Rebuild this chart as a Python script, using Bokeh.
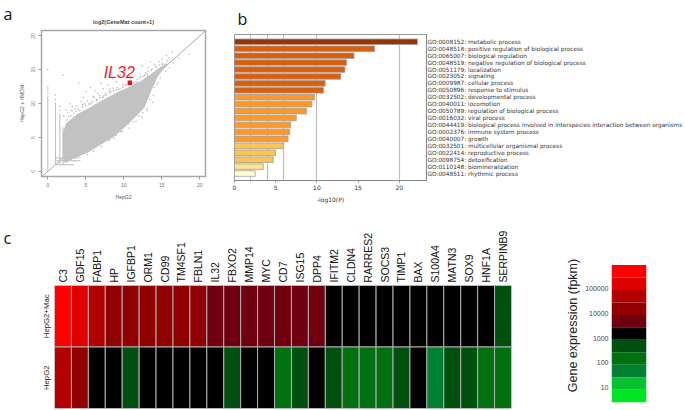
from bokeh.plotting import figure
from bokeh.layouts import column, row
from bokeh.models import Range1d, FixedTicker, Label, Slope
from bokeh.core.properties import value
from bokeh.embed import file_html
from bokeh.resources import INLINE

# ---------- panel a: values ----------
cloud_x = [2.1,2.1,2.5,3.9,5.6,7.4,9.1,10.9,12.6,14.4,15.7,15.3,14.4,13.5,12.6,11.3,10.0,8.7,6.9,5.2,3.4,2.3]
cloud_y = [2.1,5.6,7.0,8.3,9.3,10.5,11.5,12.4,13.4,14.9,15.9,15.4,14.2,12.0,9.5,8.0,6.6,5.3,4.1,2.9,2.1,1.4]
stripe_xs = [[0,0],[1,1],[1.58,1.58],[2,2],[1,3.5],[1,4.3],[1,4.0]]
stripe_ys = [[0,11.2],[1,10.2],[1,8.5],[1,6.5],[1,1],[1.58,1.58],[2,2]]
scatter_x = [0,2,4.1,5.6,6.2,7,7.3,5,4.7,6,6.6,8.2,7.9,9,8.5,9.6,10.4,11.1,12.2,12.9,13.2,14,14.6,15,15.6,16,16.4,17.2,18.6,
             13.5,12.4,3.2,2.9,2.4,3.8,4.4,5.2,6.1,6.8,7.6,8.6,9.9,10.9,11.6,12.5,13.6,14.3,15.1,15.7,2.1,2.6,
             14.8,14.5,14,13.9,13.4,13,12.5,12,11.2,10.6,9.6,8.7,8,7,6,5.2,4.2,3.5,16,16.5,15.5,
             0,0,0,0,1,1,1.58,1.58,3.1,3.6,4.6,5.4,6.4,7.2,8.1,9.3,10.2,11.8,13.1,13.8,
             2.5,3,3.4,3.7,4.2,4.6,5,5.5,5.9,6.4,6.8,7.3,7.7,8.1,8.6,9,9.5,9.9,10.4,10.8,11.3,11.7,12.2,12.7,13.1,
             2.7,3.2,4,4.9,5.7,6.5,7.4,8.3,9.1,9.9,10.7,11.5,12.1,12.8,13.2,13.7,14.2,14.7,15.1,
             3,3.9,4.7,5.5,6.3,7.2,8.1,9,9.8,10.7,11.6,12.4,13.1,13.8,14.4]
scatter_y = [15,14.2,13.1,12.4,11.9,13,12.2,11.8,10.9,11.1,11.5,12.2,12.8,13.2,13.7,14.3,13.8,14.6,14.3,14.6,15.3,15.8,16.2,16.6,17.1,16.8,17.6,16.7,17.3,
             16.2,15.6,9.6,10,9.1,9.7,10.3,10.4,10.9,11.2,11.5,12.3,12.9,13.7,13.2,14,14.9,15.4,15.8,16.3,8.2,8.7,
             13.8,13.1,12.4,11.2,10.6,9.2,8.7,8.2,7.3,7,5.9,4.9,4.7,3.7,3,2.5,2.1,1.6,15.3,16,14.8,
             11.5,11.9,12.2,12.5,10.6,11.3,9,9.6,9,9.3,9.9,10,10.6,10.9,11.9,12.1,12.7,13.6,14.1,14.4,
             7.6,8.2,8.6,8.9,9,9.5,9.7,9.9,10.3,10.4,10.9,11,11.3,11.6,11.9,12,12.2,12.6,12.8,13,13.1,13.2,13.9,14.2,14.4,
             8.1,9,9.2,10,10.1,10.6,11.2,11.8,12.4,12.4,12.9,12.9,13.8,14.2,14.8,15.1,15.5,15.7,16,
             1.8,2.3,2.6,3.4,3.7,4.2,4.6,5.3,5.9,6.4,7.4,8,9,10.2,12.8]
highlight_x = [10.8]
highlight_y = [13.1]
highlight_name = "IL32"
a_ticks = [0,5,10,15,20]

# ---------- panel b ----------
go_labels = ["GO:0008152: metabolic process","GO:0048518: positive regulation of biological process",
 "GO:0065007: biological regulation","GO:0048519: negative regulation of biological process",
 "GO:0051179: localization","GO:0023052: signaling","GO:0009987: cellular process",
 "GO:0050896: response to stimulus","GO:0032502: developmental process","GO:0040011: locomotion",
 "GO:0050789: regulation of biological process","GO:0016032: viral process",
 "GO:0044419: biological process involved in interspecies interaction between organisms",
 "GO:0002376: immune system process","GO:0040007: growth","GO:0032501: multicellular organismal process",
 "GO:0022414: reproductive process","GO:0098754: detoxification","GO:0110148: biomineralization",
 "GO:0048511: rhythmic process"]
go_values = [22.2,17.0,14.5,13.6,13.4,12.9,11.0,10.8,9.7,9.4,8.75,7.5,6.8,6.7,6.5,5.9,5.0,4.7,3.5,2.5]
go_colors = ["#993404"]+["#d95f0e"]*7+["#fe9929"]*7+["#fec44f"]*3+["#fee391","#ffffd4"]
b_grid = [2,4,6,10,20]
b_ticks = [0,5,10,15,20]

# ---------- panel c ----------
genes = ["C3","GDF15","FABP1","HP","IGFBP1","ORM1","CD99","TM4SF1","FBLN1","IL32","FBXO2","MMP14","MYC","CD7",
         "ISG15","DPP4","IFITM2","CLDN4","RARRES2","SOCS3","TIMP1","BAX","S100A4","MATN3","SOX9","HNF1A","SERPINB9"]
samples = ["HepG2+Mac","HepG2"]
level_mac = [10,9,8,7,7,7,7,7,7,6,6,6,6,6,6,6,5,5,5,5,5,5,5,5,5,5,4]
level_hep = [8,7,5,5,4,5,5,5,5,5,4,5,5,3,4,5,4,3,3,3,4,5,2,4,4,3,3]
level_colors = ["#00e620","#08c030","#008030","#007010","#005010","#000000","#700010","#900000","#b30000","#e00000","#ff0000"]
legend_ticks = [1,2,3,4,5]
legend_labels = ["10","100","1000","10000","100000"]
legend_title = "Gene expression (fpkm)"

GREY = "#a8a8a8"

def lab(p, box, text, page_x, page_y, size, color="#111111", font="Liberation Sans", style="normal", align="left"):
    # box = frame left, right, top, bottom in page pixels; converts a page position to the figure's data space
    l, r, t, b = box
    xr, yr = p.x_range, p.y_range
    x = xr.start + (page_x-l)/(r-l)*(xr.end-xr.start)
    y = yr.start + (page_y-b)/(t-b)*(yr.end-yr.start)
    p.add_layout(Label(x=x, y=y, text=text, text_font=font, text_font_size=size, text_color=color,
                       text_font_style=style, text_align=align, text_baseline="alphabetic"), "above")

# ---------- figure a ----------
pa = figure(width=222, height=205, output_backend="svg", toolbar_location=None,
            x_range=Range1d(-0.83,20.75), y_range=Range1d(-0.74,20.8),
            min_border_left=41, min_border_right=17, min_border_top=30, min_border_bottom=29,
            outline_line_color=GREY, outline_line_width=1.5)
box_a = (41,205,30,176)
pa.grid.visible = False
pa.add_layout(Slope(gradient=1, y_intercept=0, line_color="#a8a8a8", line_width=1, level="underlay"))
pa.patch(cloud_x, cloud_y, color="#c2c2c2", line_width=2)
pa.multi_line(stripe_xs, stripe_ys, color="#bdbdbd", line_width=1)
pa.scatter(scatter_x, scatter_y, size=1.6, color="#bbbbbb", line_color=None)
pa.scatter(highlight_x, highlight_y, size=4.5, color="#e8101c", marker="square", line_color=None)
pa.text(x=[7.35], y=[14.6], text=[highlight_name], text_font=value("Liberation Sans"), text_font_size="16px",
        text_font_style="italic", text_color="#f0202a", text_baseline="alphabetic")
for ax in (pa.xaxis[0], pa.yaxis[0]):
    ax.ticker = FixedTicker(ticks=a_ticks)
    ax.bounds = (0,20)
    ax.axis_line_color = GREY
    ax.major_tick_line_color = "#999999"
    ax.major_tick_in = 0
    ax.major_tick_out = 3
    ax.minor_tick_line_color = None
    ax.major_label_text_font = "Liberation Sans"
    ax.major_label_text_font_size = "5px"
    ax.major_label_text_color = "#777777"
    ax.major_label_standoff = 3
pa.yaxis[0].major_label_orientation = "vertical"
pa.xaxis[0].axis_label = "HepG2"
pa.yaxis[0].axis_label = "HepG2 + HMDM"
for ax in (pa.xaxis[0], pa.yaxis[0]):
    ax.axis_label_text_font = "Liberation Sans"
    ax.axis_label_text_font_size = "5px"
    ax.axis_label_text_font_style = "normal"
    ax.axis_label_text_color = "#555555"
    ax.axis_label_standoff = 4
lab(pa, box_a, "a", 3, 13, "16px", font="Open Sans")
lab(pa, box_a, "log2(GeneMat count+1)", 123, 21, "5.5px", color="#444444", style="bold", align="center")

# ---------- figure b ----------
idx = list(range(len(go_values)))
pb = figure(width=463, height=205, output_backend="svg", toolbar_location=None,
            x_range=Range1d(0,23.3), y_range=Range1d(20.0,-1.05),
            min_border_left=12, min_border_right=257, min_border_top=34, min_border_bottom=24,
            y_axis_location="right", outline_line_color="#999999", outline_line_width=1)
box_b = (234,428,34,181)
pb.ygrid.visible = False
pb.xgrid.ticker = FixedTicker(ticks=b_grid)
pb.xgrid.grid_line_color = "#c0c0c0"
pb.xgrid.grid_line_width = 1.2
pb.hbar(y=idx, left=0, right=go_values, height=0.8, fill_color=go_colors, line_color="#a0a0a0", line_width=0.8)
xa = pb.xaxis[0]
xa.ticker = FixedTicker(ticks=b_ticks)
xa.axis_line_color = "#888888"
xa.major_tick_line_color = "#888888"
xa.major_tick_in = 0
xa.major_tick_out = 2
xa.minor_tick_line_color = None
xa.major_label_text_font = "DejaVu Sans"
xa.major_label_text_font_size = "6px"
xa.major_label_text_color = "#333333"
xa.major_label_standoff = 2
xa.axis_label = "-log10(P)"
xa.axis_label_text_font = "DejaVu Sans"
xa.axis_label_text_font_size = "6px"
xa.axis_label_text_font_style = "normal"
xa.axis_label_text_color = "#333333"
xa.axis_label_standoff = 3
ya = pb.yaxis[0]
ya.ticker = FixedTicker(ticks=idx)
ya.major_label_overrides = {i: t for i, t in zip(idx, go_labels)}
ya.major_tick_line_color = None
ya.major_tick_in = 0
ya.major_tick_out = 0
ya.minor_tick_line_color = None
ya.axis_line_color = "#888888"
ya.major_label_standoff = 1
ya.major_label_text_font = "DejaVu Sans"
ya.major_label_text_font_size = "5.8px"
ya.major_label_text_color = "#333333"
lab(pb, box_b, "b", 237, 18, "16px", font="Open Sans")

# ---------- figure c ----------
n = len(genes)
cols = list(range(n))
pc = figure(width=530, height=205, output_backend="svg", toolbar_location=None,
            x_range=Range1d(-0.5,n-0.5), y_range=Range1d(-0.5,1.5),
            min_border_left=54, min_border_right=19, min_border_top=80, min_border_bottom=2,
            x_axis_location="above", outline_line_color=None)
box_c = (54,511,285,408)
pc.grid.visible = False
pc.rect(x=cols, y=[1]*n, width=1, height=1, fill_color=[level_colors[v] for v in level_mac], line_color="#b0b0b0", line_width=1)
pc.rect(x=cols, y=[0]*n, width=1, height=1, fill_color=[level_colors[v] for v in level_hep], line_color="#b0b0b0", line_width=1)
xc = pc.xaxis[0]
xc.ticker = FixedTicker(ticks=cols)
xc.major_label_overrides = {i: g for i, g in enumerate(genes)}
xc.major_label_orientation = "vertical"
xc.major_label_text_font = "Liberation Sans"
xc.major_label_text_font_size = "10.5px"
xc.major_label_text_color = "#111111"
xc.major_label_standoff = 3
xc.major_tick_in = 0
xc.major_tick_out = 0
xc.axis_line_color = None
xc.major_tick_line_color = None
xc.minor_tick_line_color = None
yc = pc.yaxis[0]
yc.ticker = FixedTicker(ticks=[1,0])
yc.major_label_overrides = {1: samples[0], 0: samples[1]}
yc.major_label_orientation = "vertical"
yc.major_label_text_font = "Liberation Sans"
yc.major_label_text_font_size = "7.8px"
yc.major_label_text_color = "#222222"
yc.major_label_standoff = 4
yc.major_tick_in = 0
yc.major_tick_out = 0
yc.axis_line_color = None
yc.major_tick_line_color = None
yc.minor_tick_line_color = None
lab(pc, box_c, "c", 3, 237, "16px", font="Open Sans")

# ---------- figure d: legend ----------
step = 0.505
bottom0 = 0.405
bots = [bottom0 + i*step for i in range(len(level_colors))]
tops = [b + step for b in bots]
pd_ = figure(width=155, height=205, output_backend="svg", toolbar_location=None,
             x_range=Range1d(0,1), y_range=Range1d(0.15, 6.87),
             min_border_left=81, min_border_right=39, min_border_top=37, min_border_bottom=2,
             outline_line_color=None)
pd_.grid.visible = False
pd_.xaxis.visible = False
pd_.quad(left=0, right=1, bottom=bots, top=tops, fill_color=level_colors, line_color=None)
yd = pd_.yaxis[0]
yd.ticker = FixedTicker(ticks=legend_ticks)
yd.major_label_overrides = {t: l for t, l in zip(legend_ticks, legend_labels)}
yd.axis_line_color = None
yd.major_tick_line_color = None
yd.major_tick_in = 0
yd.major_tick_out = 0
yd.minor_tick_line_color = None
yd.major_label_standoff = 3
yd.major_label_text_font = "Liberation Sans"
yd.major_label_text_font_size = "7px"
yd.major_label_text_color = "#444444"
yd.axis_label = legend_title
yd.axis_label_text_font = "Liberation Sans"
yd.axis_label_text_font_size = "12.5px"
yd.axis_label_text_font_style = "normal"
yd.axis_label_text_color = "#222222"
yd.axis_label_standoff = 2

page = column(row(column(pa), column(pb)), row(column(pc), column(pd_)))
open("out.html", "w").write(file_html(page, INLINE))
